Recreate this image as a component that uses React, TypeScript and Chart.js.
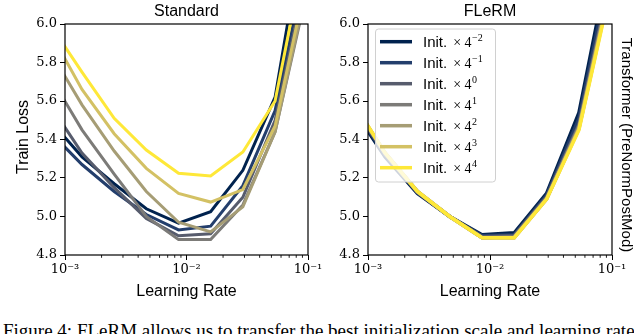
import React, { useEffect, useRef } from 'react';
import { Chart, registerables } from 'chart.js';

Chart.register(...registerables);

// ---------- data ----------
const learningRates = [0.00075, 0.00138, 0.00254, 0.00467, 0.0086, 0.0158, 0.0291, 0.0536, 0.0986];
const initExponents = ['\u22122', '\u22121', '0', '1', '2', '3', '4'];
const seriesColors = ['#00224e', '#233e6c', '#575c6d', '#7c7b78', '#a69d75', '#d3c164', '#fee838'];

const standardNeg2 = [5.50, 5.31, 5.17, 5.04, 4.965, 5.025, 5.24, 5.62, 6.6];
const standardNeg1 = [5.44, 5.27, 5.13, 5.01, 4.93, 4.95, 5.16, 5.55, 6.35];
const standardPow0 = [5.58, 5.33, 5.15, 4.99, 4.9, 4.91, 5.10, 5.50, 6.28];
const standardPow1 = [5.73, 5.45, 5.22, 5.0, 4.88, 4.88, 5.06, 5.44, 6.18];
const standardPow2 = [5.86, 5.58, 5.34, 5.13, 4.97, 4.92, 5.05, 5.44, 6.2];
const standardPow3 = [5.96, 5.66, 5.43, 5.25, 5.12, 5.075, 5.14, 5.47, 6.25];
const standardPow4 = [6.0, 5.75, 5.51, 5.345, 5.225, 5.21, 5.335, 5.60, 6.44];

const flermNeg2 = [5.56, 5.31, 5.12, 5.0, 4.905, 4.915, 5.12, 5.54, 6.38];
const flermNeg1 = [5.57, 5.32, 5.125, 5.0, 4.9, 4.905, 5.11, 5.51, 6.32];
const flermPow0 = [5.58, 5.325, 5.125, 5.0, 4.895, 4.9, 5.1, 5.48, 6.26];
const flermPow1 = [5.585, 5.33, 5.13, 5.0, 4.89, 4.895, 5.095, 5.47, 6.24];
const flermPow2 = [5.59, 5.33, 5.13, 5.0, 4.89, 4.89, 5.09, 5.46, 6.22];
const flermPow3 = [5.595, 5.33, 5.13, 5.0, 4.89, 4.89, 5.09, 5.455, 6.21];
const flermPow4 = [5.595, 5.33, 5.13, 5.0, 4.89, 4.89, 5.09, 5.45, 6.2];

const standardSeries = [standardNeg2, standardNeg1, standardPow0, standardPow1, standardPow2, standardPow3, standardPow4];
const flermSeries = [flermNeg2, flermNeg1, flermPow0, flermPow1, flermPow2, flermPow3, flermPow4];

const xTickValues = [0.001, 0.01, 0.1];
const xTickLabels = ['10\u207B\u00B3', '10\u207B\u00B2', '10\u207B\u00B9'];
const yTickValues = [4.8, 5.0, 5.2, 5.4, 5.6, 5.8, 6.0];
const xMinorTicks = [0.002, 0.003, 0.004, 0.005, 0.006, 0.007, 0.008, 0.009, 0.02, 0.03, 0.04, 0.05, 0.06, 0.07, 0.08, 0.09];

const leftTitle = 'Standard';
const rightTitle = 'FLeRM';
const xAxisTitle = 'Learning Rate';
const yAxisTitle = 'Train Loss';
const sideTitle = 'Transformer (PreNormPostMod)';
const captionText = 'Figure 4: FLeRM allows us to transfer the best initialization scale and learning rate across';

const SANS = '"Liberation Sans", Arial, sans-serif';
const SERIF = '"DejaVu Serif", serif';
const MATH = '"Liberation Serif", serif';

type DecorOpts = { title: string; yLabel?: string; sideLabel?: string; legend?: boolean };

function makeDecor(o: DecorOpts) {
  return {
    id: 'decor',
    afterDatasetsDraw(chart: any) {
      const { ctx, chartArea: a } = chart;
      ctx.save();
      if (o.legend) {
        const bx = a.left + 7.5, by = a.top + 5, bw = 120, bh = 153, r = 3;
        ctx.beginPath();
        ctx.moveTo(bx + r, by);
        ctx.lineTo(bx + bw - r, by);
        ctx.quadraticCurveTo(bx + bw, by, bx + bw, by + r);
        ctx.lineTo(bx + bw, by + bh - r);
        ctx.quadraticCurveTo(bx + bw, by + bh, bx + bw - r, by + bh);
        ctx.lineTo(bx + r, by + bh);
        ctx.quadraticCurveTo(bx, by + bh, bx, by + bh - r);
        ctx.lineTo(bx, by + r);
        ctx.quadraticCurveTo(bx, by, bx + r, by);
        ctx.closePath();
        ctx.fillStyle = 'rgba(255,255,255,0.8)';
        ctx.fill();
        ctx.strokeStyle = '#d0d0d0';
        ctx.lineWidth = 1;
        ctx.stroke();
        chart.data.datasets.forEach((ds: any, i: number) => {
          const y = a.top + 17.7 + 21 * i;
          ctx.strokeStyle = ds.borderColor;
          ctx.lineWidth = 3.5;
          ctx.beginPath();
          ctx.moveTo(a.left + 12, y);
          ctx.lineTo(a.left + 44, y);
          ctx.stroke();
          ctx.fillStyle = '#000';
          ctx.textBaseline = 'alphabetic';
          ctx.textAlign = 'left';
          let x = a.left + 55;
          const base = y + 5.5;
          ctx.font = `15px ${SANS}`;
          ctx.fillText('Init.', x, base);
          x += ctx.measureText('Init.').width + 6;
          ctx.font = `14px ${MATH}`;
          ctx.fillText('\u00D7', x, base);
          x += ctx.measureText('\u00D7').width + 3.5;
          ctx.fillText('4', x, base);
          x += ctx.measureText('4').width + 0.5;
          ctx.font = `10px ${MATH}`;
          ctx.fillText(initExponents[i], x, base - 6);
        });
      }
      ctx.strokeStyle = '#000';
      ctx.lineWidth = 1.2;
      ctx.strokeRect(a.left, a.top, a.right - a.left, a.bottom - a.top);
      const xs = chart.scales.x;
      ctx.lineWidth = 0.9;
      ctx.beginPath();
      xMinorTicks.forEach((v) => {
        const px = xs.getPixelForValue(v);
        ctx.moveTo(px, a.bottom);
        ctx.lineTo(px, a.bottom + 2.8);
      });
      ctx.stroke();
      ctx.restore();
    },
    afterDraw(chart: any) {
      const { ctx, chartArea: a } = chart;
      const cx = (a.left + a.right) / 2;
      ctx.save();
      ctx.fillStyle = '#000';
      ctx.textAlign = 'center';
      ctx.textBaseline = 'alphabetic';
      ctx.font = `16px ${SANS}`;
      ctx.fillText(o.title, cx, 16);
      ctx.fillText(xAxisTitle, cx, 296);
      if (o.yLabel) {
        ctx.save();
        ctx.translate(27.5, 137);
        ctx.rotate(-Math.PI / 2);
        ctx.fillText(o.yLabel, 0, 0);
        ctx.restore();
      }
      if (o.sideLabel) {
        ctx.save();
        ctx.font = `15px ${SANS}`;
        ctx.translate(a.right + 9.5, 145);
        ctx.rotate(Math.PI / 2);
        ctx.fillText(o.sideLabel, 0, 0);
        ctx.restore();
      }
      ctx.restore();
    },
  };
}

function buildConfig(series: number[][], padding: any, yWidth: number, lineWidth: number, decor: DecorOpts) {
  return {
    type: 'line' as const,
    data: {
      labels: learningRates,
      datasets: series.map((vals, i) => ({
        label: 'Init. \u00D7 4^' + initExponents[i],
        data: learningRates.map((lr, j) => ({ x: lr, y: vals[j] })),
        borderColor: seriesColors[i],
        backgroundColor: seriesColors[i],
        borderWidth: lineWidth,
        pointRadius: 0,
        tension: 0,
        fill: false,
        clip: 0,
        order: series.length - i,
      })),
    },
    options: {
      animation: false,
      responsive: false,
      maintainAspectRatio: false,
      devicePixelRatio: 1,
      layout: { padding },
      plugins: { legend: { display: false }, tooltip: { enabled: false }, title: { display: false } },
      scales: {
        x: {
          type: 'logarithmic',
          min: 0.001,
          max: 0.1,
          afterBuildTicks: (s: any) => {
            s.ticks = xTickValues.map((v) => ({ value: v }));
          },
          afterFit: (s: any) => {
            s.height = 79;
          },
          ticks: {
            autoSkip: false,
            maxRotation: 0,
            padding: 2,
            color: '#000',
            font: { family: SERIF, size: 13 },
            callback: (v: any) => {
              const k = xTickValues.findIndex((t) => Math.abs(t - v) / t < 1e-6);
              return k >= 0 ? xTickLabels[k] : '';
            },
          },
          grid: { display: true, drawOnChartArea: false, drawTicks: true, tickLength: 5, color: '#000', lineWidth: 1 },
          border: { display: false },
        },
        y: {
          type: 'linear',
          min: 4.8,
          max: 6.0,
          afterBuildTicks: (s: any) => {
            s.ticks = yTickValues.map((v) => ({ value: v }));
          },
          afterFit: (s: any) => {
            s.width = yWidth;
          },
          ticks: {
            autoSkip: false,
            padding: 3,
            color: '#000',
            font: { family: SERIF, size: 13 },
            callback: (v: any) => Number(v).toFixed(1),
          },
          grid: { display: true, drawOnChartArea: false, drawTicks: true, tickLength: 5, color: '#000', lineWidth: 1 },
          border: { display: false },
        },
      },
    },
    plugins: [makeDecor(decor)],
  };
}

export default function App() {
  const leftRef = useRef<HTMLCanvasElement>(null);
  const rightRef = useRef<HTMLCanvasElement>(null);

  useEffect(() => {
    const left = new Chart(
      leftRef.current as HTMLCanvasElement,
      buildConfig(standardSeries, { left: 0, right: 326, top: 24, bottom: 0 }, 65, 3, {
        title: leftTitle,
        yLabel: yAxisTitle,
      }) as any
    );
    const right = new Chart(
      rightRef.current as HTMLCanvasElement,
      buildConfig(flermSeries, { left: 317, right: 22, top: 24, bottom: 0 }, 51, 3.5, {
        title: rightTitle,
        sideLabel: sideTitle,
        legend: true,
      }) as any
    );
    return () => {
      left.destroy();
      right.destroy();
    };
  }, []);

  const canvasStyle: React.CSSProperties = { position: 'absolute', left: 0, top: 0, width: 634, height: 334 };

  return (
    <div style={{ position: 'absolute', left: 0, top: 0, width: 634, height: 334, overflow: 'hidden', background: '#fff' }}>
      <div
        style={{
          position: 'absolute',
          left: 3,
          top: 320.5,
          fontFamily: MATH,
          fontSize: 19,
          lineHeight: '19px',
          whiteSpace: 'nowrap',
          color: '#000',
        }}
      >
        {captionText}
      </div>
      <canvas ref={leftRef} width={634} height={334} style={canvasStyle} />
      <canvas ref={rightRef} width={634} height={334} style={canvasStyle} />
    </div>
  );
}
